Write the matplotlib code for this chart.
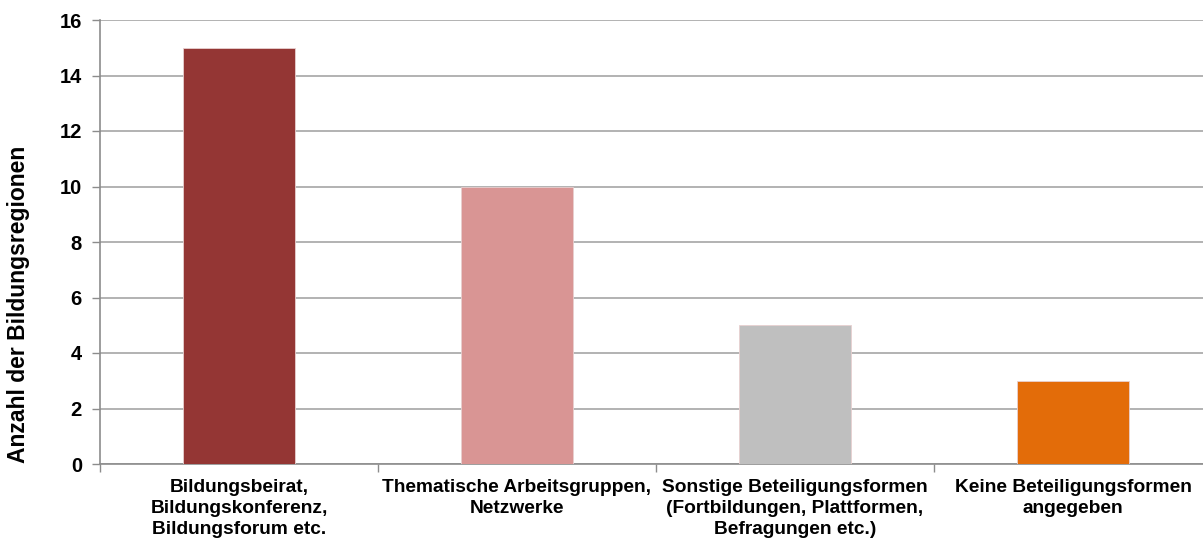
import numpy as np
import matplotlib
matplotlib.use("Agg")
import matplotlib.pyplot as plt

plt.rcParams['font.family'] = ['Liberation Sans', 'DejaVu Sans']

categories = ["Bildungsbeirat,\nBildungskonferenz,\nBildungsforum etc.",
              "Thematische Arbeitsgruppen,\nNetzwerke",
              "Sonstige Beteiligungsformen\n(Fortbildungen, Plattformen,\nBefragungen etc.)",
              "Keine Beteiligungsformen\nangegeben"]
counts = [15, 10, 5, 3]
colors = ["#943634", "#D99594", "#BFBFBF", "#E36C09"]
yticks = [0, 2, 4, 6, 8, 10, 12, 14, 16]

fig = plt.figure(figsize=(12.03, 5.41), dpi=100)
ax = fig.add_axes([100 / 1203, 1 - 464 / 541, 1112 / 1203, 444 / 541])

x = np.arange(len(categories))
ax.bar(x, counts, width=0.4, color=colors, edgecolor="#e8d0d0", linewidth=0.6, zorder=3)

ax.set_xlim(-0.5, len(categories) - 0.5)
ax.set_ylim(0, 16)
ax.set_yticks(yticks)
ax.set_yticklabels([str(v) for v in yticks], fontsize=14.5, fontweight="bold")
ax.yaxis.grid(True, color="#a6a6a6", linewidth=1.2, zorder=0)

# category labels sit between the boundary ticks
ax.set_xticks(np.arange(len(categories) + 1) - 0.5)
ax.set_xticklabels([])
ax.tick_params(axis="x", length=6, color="#8c8c8c", width=1)
ax.tick_params(axis="y", length=6, color="#8c8c8c", width=1, pad=7)
for i, lab in enumerate(categories):
    ax.text(i, -0.55, lab, ha="center", va="top", fontsize=13.8, fontweight="bold",
            linespacing=1.3, transform=ax.transData)

for side in ["top", "right"]:
    ax.spines[side].set_visible(False)
ax.spines["left"].set_color("#8c8c8c")
ax.spines["bottom"].set_color("#8c8c8c")
ax.spines["left"].set_linewidth(1.2)
ax.spines["bottom"].set_linewidth(1.2)

fig.text(19 / 1203, 1 - 304 / 541, "Anzahl der Bildungsregionen", rotation=90,
         ha="center", va="center", fontsize=16.5, fontweight="bold")

fig.savefig("out.png", dpi=100)
